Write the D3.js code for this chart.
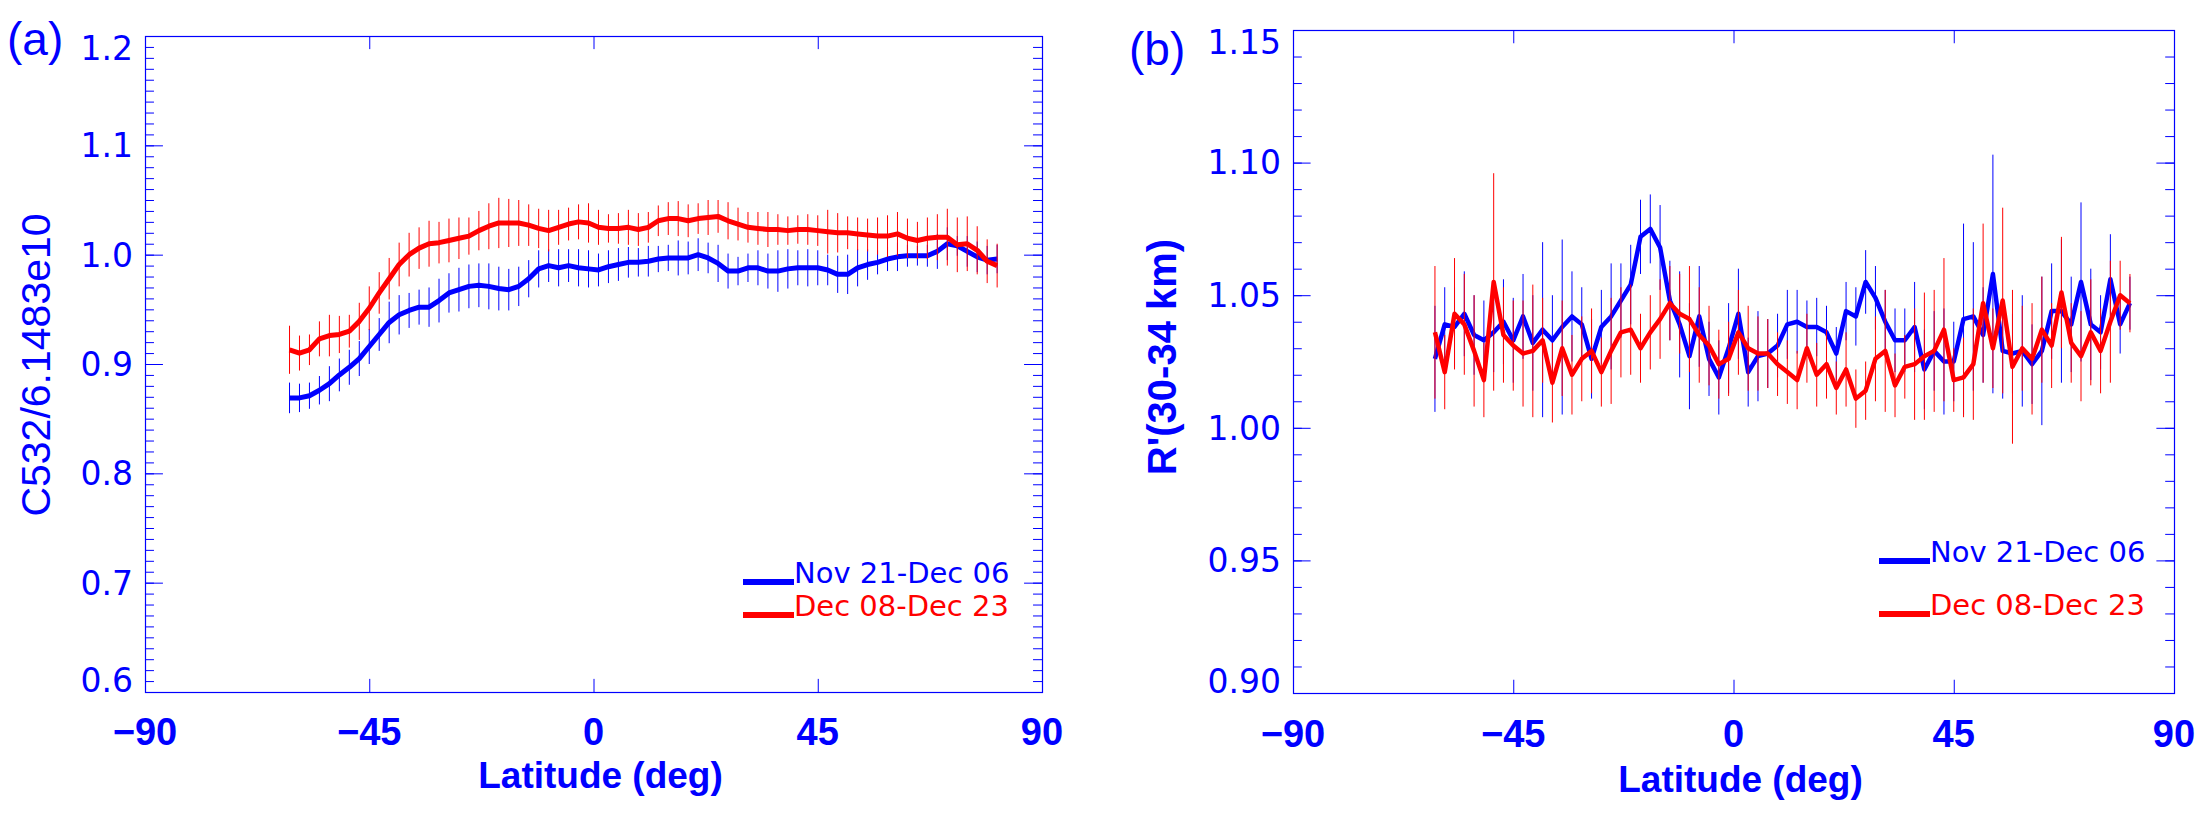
<!DOCTYPE html>
<html lang="en">
<head>
<meta charset="UTF-8">
<title>C532 and R' versus latitude</title>
<style>
  * { margin: 0; }
  body { background: #fff; }
  svg { display: block; }
</style>
</head>
<body>
<svg id="chart" width="2208" height="818"></svg>
<script src="https://cdn.jsdelivr.net/npm/d3@7"></script>
<script>
// ---- data ----
const latitude = [-61, -59, -57, -55, -53, -51, -49, -47, -45, -43, -41, -39, -37, -35, -33, -31, -29, -27,
  -25, -23, -21, -19, -17, -15, -13, -11, -9, -7, -5, -3, -1, 1, 3, 5, 7, 9, 11, 13, 15, 17, 19, 21, 23, 25,
  27, 29, 31, 33, 35, 37, 39, 41, 43, 45, 47, 49, 51, 53, 55, 57, 59, 61, 63, 65, 67, 69, 71, 73, 75, 77, 79, 81];

const seriesNames = ["Nov 21-Dec 06", "Dec 08-Dec 23"];

// panel (a): C532 normalised
const c532Nov = [0.869, 0.869, 0.871, 0.876, 0.882, 0.890, 0.897, 0.905, 0.916, 0.927,
  0.938, 0.945, 0.949, 0.952, 0.952, 0.958, 0.965, 0.968, 0.971, 0.972,
  0.971, 0.969, 0.968, 0.971, 0.978, 0.987, 0.990, 0.988, 0.990, 0.988,
  0.987, 0.986, 0.989, 0.991, 0.993, 0.993, 0.994,
  0.996, 0.997, 0.997, 0.997, 1.000, 0.997, 0.992, 0.985, 0.985, 0.988,
  0.988, 0.985, 0.985, 0.987, 0.988, 0.988, 0.988, 0.986, 0.982, 0.982,
  0.988, 0.991, 0.993, 0.996, 0.998, 0.999, 0.999, 0.999, 1.003, 1.010,
  1.008, 1.003, 0.998, 0.995, 0.996];
const c532NovErr = [0.014, 0.013, 0.012, 0.013, 0.016, 0.015, 0.016, 0.016, 0.016, 0.015,
  0.019, 0.018, 0.016, 0.016, 0.018, 0.020, 0.018, 0.020, 0.020, 0.020,
  0.021, 0.020, 0.019, 0.018, 0.017, 0.017, 0.015, 0.017, 0.015, 0.017,
  0.017, 0.015, 0.015, 0.015, 0.014, 0.013, 0.014,
  0.012, 0.012, 0.016, 0.015, 0.015, 0.014, 0.017, 0.016, 0.013, 0.013,
  0.016, 0.016, 0.019, 0.018, 0.016, 0.017, 0.016, 0.014, 0.017, 0.018,
  0.017, 0.014, 0.011, 0.011, 0.013, 0.010, 0.009, 0.010, 0.016, 0.015,
  0.009, 0.014, 0.014, 0.013, 0.013];
const c532Dec = [0.913, 0.910, 0.913, 0.923, 0.926, 0.927, 0.930, 0.939, 0.951, 0.965,
  0.978, 0.991, 1.000, 1.006, 1.010, 1.011, 1.013, 1.015, 1.017, 1.022,
  1.026, 1.029, 1.029, 1.029, 1.027, 1.024, 1.022, 1.025, 1.028, 1.030,
  1.029, 1.025, 1.024, 1.024, 1.025, 1.023, 1.025,
  1.031, 1.033, 1.033, 1.031, 1.033, 1.034, 1.035, 1.031, 1.028, 1.025,
  1.024, 1.023, 1.023, 1.022, 1.023, 1.023, 1.022, 1.021, 1.020, 1.020,
  1.019, 1.018, 1.017, 1.017, 1.019, 1.015, 1.013, 1.015, 1.016, 1.016,
  1.009, 1.010, 1.004, 0.994, 0.990];
const c532DecErr = [0.022, 0.016, 0.014, 0.016, 0.019, 0.017, 0.015, 0.017, 0.020, 0.019,
  0.019, 0.020, 0.020, 0.019, 0.021, 0.019, 0.020, 0.019, 0.017, 0.018,
  0.021, 0.023, 0.022, 0.021, 0.019, 0.018, 0.019, 0.016, 0.015, 0.016,
  0.018, 0.016, 0.013, 0.014, 0.016, 0.015, 0.014,
  0.014, 0.015, 0.016, 0.015, 0.014, 0.016, 0.015, 0.017, 0.015, 0.014,
  0.015, 0.016, 0.014, 0.013, 0.013, 0.014, 0.014, 0.020, 0.018, 0.015,
  0.015, 0.015, 0.017, 0.019, 0.020, 0.018, 0.017, 0.019, 0.021, 0.026,
  0.025, 0.025, 0.022, 0.020, 0.020];

// panel (b): R'(30-34 km)
const rNov = [1.026, 1.039, 1.038, 1.043, 1.035, 1.033, 1.036, 1.040, 1.033, 1.042,
  1.032, 1.037, 1.033, 1.038, 1.042, 1.039, 1.026, 1.038, 1.042, 1.048,
  1.054, 1.072, 1.075, 1.068, 1.048, 1.039, 1.027, 1.042, 1.026, 1.019,
  1.030, 1.043, 1.021, 1.027, 1.028, 1.031, 1.039,
  1.040, 1.038, 1.038, 1.036, 1.028, 1.044, 1.042, 1.055, 1.049, 1.040,
  1.033, 1.033, 1.038, 1.022, 1.029, 1.025, 1.025, 1.041, 1.042, 1.035,
  1.058, 1.029, 1.028, 1.029, 1.024, 1.029, 1.044, 1.044, 1.039, 1.055,
  1.039, 1.036, 1.056, 1.039, 1.047];
const rNovErr = [0.020, 0.014, 0.015, 0.016, 0.015, 0.015, 0.015, 0.016, 0.016, 0.016,
  0.018, 0.033, 0.017, 0.033, 0.017, 0.014, 0.015, 0.014, 0.020, 0.014,
  0.015, 0.014, 0.013, 0.016, 0.015, 0.020, 0.020, 0.019, 0.014, 0.014,
  0.017, 0.017, 0.013, 0.017, 0.013, 0.012, 0.013,
  0.012, 0.010, 0.011, 0.010, 0.010, 0.011, 0.011, 0.012, 0.012, 0.012,
  0.012, 0.012, 0.017, 0.015, 0.015, 0.020, 0.015, 0.036, 0.028, 0.018,
  0.045, 0.018, 0.015, 0.021, 0.015, 0.028, 0.018, 0.027, 0.018, 0.030,
  0.021, 0.014, 0.017, 0.011, 0.010];
const rDec = [1.036, 1.021, 1.043, 1.039, 1.029, 1.018, 1.055, 1.035, 1.031, 1.028,
  1.029, 1.033, 1.017, 1.030, 1.020, 1.026, 1.029, 1.021, 1.029, 1.036,
  1.037, 1.030, 1.036, 1.041, 1.047, 1.043, 1.041, 1.035, 1.031, 1.024,
  1.026, 1.036, 1.030, 1.028, 1.028, 1.024, 1.021,
  1.018, 1.030, 1.020, 1.024, 1.015, 1.022, 1.011, 1.014, 1.026, 1.029,
  1.016, 1.023, 1.024, 1.027, 1.029, 1.037, 1.018, 1.019, 1.024, 1.047,
  1.030, 1.048, 1.023, 1.030, 1.026, 1.037, 1.031, 1.051, 1.032, 1.027,
  1.036, 1.029, 1.040, 1.050, 1.047];
const rDecErr = [0.025, 0.014, 0.021, 0.019, 0.021, 0.014, 0.041, 0.018, 0.017, 0.020,
  0.025, 0.016, 0.015, 0.018, 0.015, 0.016, 0.016, 0.013, 0.020, 0.017,
  0.017, 0.013, 0.014, 0.015, 0.014, 0.015, 0.020, 0.018, 0.015, 0.013,
  0.014, 0.016, 0.016, 0.014, 0.013, 0.012, 0.012,
  0.011, 0.013, 0.012, 0.013, 0.010, 0.014, 0.011, 0.011, 0.016, 0.023,
  0.012, 0.012, 0.021, 0.024, 0.023, 0.027, 0.012, 0.015, 0.021, 0.030,
  0.015, 0.035, 0.029, 0.016, 0.021, 0.020, 0.016, 0.021, 0.015, 0.017,
  0.020, 0.016, 0.023, 0.013, 0.011];

// tick labels
const latTicks = [-90, -45, 0, 45, 90];
const c532Ticks = [0.6, 0.7, 0.8, 0.9, 1.0, 1.1, 1.2];
const rTicks = [0.90, 0.95, 1.00, 1.05, 1.10, 1.15];
// ---- end data ----

const BLUE = "#0000ff";
const RED = "#ff0000";
const colors = [BLUE, RED];

const svg = d3.select("#chart");
svg.append("rect").attr("width", 2208).attr("height", 818).attr("fill", "#fff");

function drawPanel(o) {
  const g = svg.append("g");
  const x = d3.scaleLinear().domain([-90, 90]).range([o.left, o.right]);
  const y = d3.scaleLinear().domain(o.yDomain).range([o.bottom, o.top]);

  // IDL-style tick lengths: 2% of the plot size, minor ticks half of that
  const yMajor = 0.02 * (o.right - o.left);
  const xMajor = 0.02 * (o.bottom - o.top);

  function ticks(axis, tx, ty) {
    const a = g.append("g")
      .attr("transform", `translate(${tx},${ty})`)
      .style("color", BLUE)
      .call(axis);
    a.select(".domain").remove();
    a.selectAll("text").remove();
  }
  const minor = y.ticks(o.minorCount);
  ticks(d3.axisRight(y).tickValues(minor).tickSize(yMajor / 2).tickFormat(""), o.left, 0);
  ticks(d3.axisRight(y).tickValues(o.yTicks).tickSize(yMajor).tickFormat(""), o.left, 0);
  ticks(d3.axisLeft(y).tickValues(minor).tickSize(yMajor / 2).tickFormat(""), o.right, 0);
  ticks(d3.axisLeft(y).tickValues(o.yTicks).tickSize(yMajor).tickFormat(""), o.right, 0);
  const xInner = latTicks.slice(1, -1);
  ticks(d3.axisTop(x).tickValues(xInner).tickSize(xMajor).tickFormat(""), 0, o.bottom);
  ticks(d3.axisBottom(x).tickValues(xInner).tickSize(xMajor).tickFormat(""), 0, o.top);

  // frame
  g.append("rect")
    .attr("x", o.left + 0.5).attr("y", o.top + 0.5)
    .attr("width", o.right - o.left).attr("height", o.bottom - o.top)
    .attr("fill", "none").attr("stroke", BLUE).attr("stroke-width", 1.2);

  // y tick labels (end labels pulled inside the range, as IDL does)
  const n = o.yTicks.length;
  g.append("g")
    .attr("font-family", "DejaVu Sans").attr("font-size", 33)
    .attr("fill", BLUE).attr("text-anchor", "end")
    .selectAll("text").data(o.yTicks).join("text")
    .attr("x", o.left - 12)
    .attr("y", (d, i) => y(d) + (i === 0 ? -12 : i === n - 1 ? 12 : 0))
    .attr("dy", "0.36em")
    .text(d3.format(o.fmt));

  // x tick labels
  g.append("g")
    .attr("font-family", "Liberation Sans").attr("font-weight", "bold").attr("font-size", 38)
    .attr("fill", BLUE).attr("text-anchor", "middle")
    .selectAll("text").data(latTicks).join("text")
    .attr("x", d => x(d)).attr("y", o.xLabelY)
    .text(d3.format("d"));

  // axis titles
  g.append("text")
    .attr("x", (o.left + o.right) / 2 + 7).attr("y", o.xTitleY)
    .attr("font-family", "Liberation Sans").attr("font-weight", "bold").attr("font-size", 37)
    .attr("fill", BLUE).attr("text-anchor", "middle")
    .text("Latitude (deg)");
  g.append("text")
    .attr("transform", `translate(${o.yTitleX},${o.yTitleY}) rotate(-90)`)
    .attr("font-family", "Liberation Sans").attr("font-weight", o.yTitleWeight).attr("font-size", o.yTitleSize)
    .attr("fill", BLUE).attr("text-anchor", "middle")
    .text(o.yTitle);
  g.append("text")
    .attr("x", o.tagX).attr("y", o.tagY)
    .attr("font-family", "Liberation Sans").attr("font-size", 46)
    .attr("fill", BLUE)
    .text(o.tag);

  // error bars and lines
  const line = d3.line().x((d, i) => x(latitude[i])).y(d => y(d));
  o.series.forEach((s, k) => {
    g.append("g")
      .attr("stroke", colors[k]).attr("stroke-width", 1)
      .selectAll("line").data(s.values).join("line")
      .attr("x1", (d, i) => x(latitude[i])).attr("x2", (d, i) => x(latitude[i]))
      .attr("y1", (d, i) => y(d - s.err[i])).attr("y2", (d, i) => y(d + s.err[i]));
    g.append("path")
      .datum(s.values)
      .attr("fill", "none").attr("stroke", colors[k])
      .attr("stroke-width", o.lineWidth).attr("stroke-linejoin", "round")
      .attr("d", line);
  });

  // legend
  seriesNames.forEach((name, k) => {
    const ly = o.legend.y[k];
    g.append("line")
      .attr("x1", o.legend.x).attr("x2", o.legend.x + 51)
      .attr("y1", ly - 1).attr("y2", ly - 1)
      .attr("stroke", colors[k]).attr("stroke-width", 6);
    g.append("text")
      .attr("x", o.legend.x + 51).attr("y", ly)
      .attr("font-family", "DejaVu Sans").attr("font-size", 29)
      .attr("fill", colors[k])
      .text(name);
  });
}

drawPanel({
  left: 145, right: 1042, top: 36, bottom: 692,
  yDomain: [0.6, 1.2], yTicks: c532Ticks, minorCount: 60, fmt: ".1f",
  xLabelY: 745, xTitleY: 788,
  yTitle: "C532/6.1483e10", yTitleWeight: "normal", yTitleSize: 41, yTitleX: 50, yTitleY: 365,
  tag: "(a)", tagX: 7, tagY: 55,
  lineWidth: 5,
  series: [{values: c532Nov, err: c532NovErr}, {values: c532Dec, err: c532DecErr}],
  legend: {x: 743, y: [583, 616]}
});

drawPanel({
  left: 1293, right: 2174, top: 30, bottom: 693,
  yDomain: [0.9, 1.15], yTicks: rTicks, minorCount: 25, fmt: ".2f",
  xLabelY: 747, xTitleY: 792,
  yTitle: "R'(30-34 km)", yTitleWeight: "bold", yTitleSize: 40, yTitleX: 1176, yTitleY: 357,
  tag: "(b)", tagX: 1129, tagY: 65,
  lineWidth: 4.5,
  series: [{values: rNov, err: rNovErr}, {values: rDec, err: rDecErr}],
  legend: {x: 1879, y: [562, 615]}
});
</script>
</body>
</html>
